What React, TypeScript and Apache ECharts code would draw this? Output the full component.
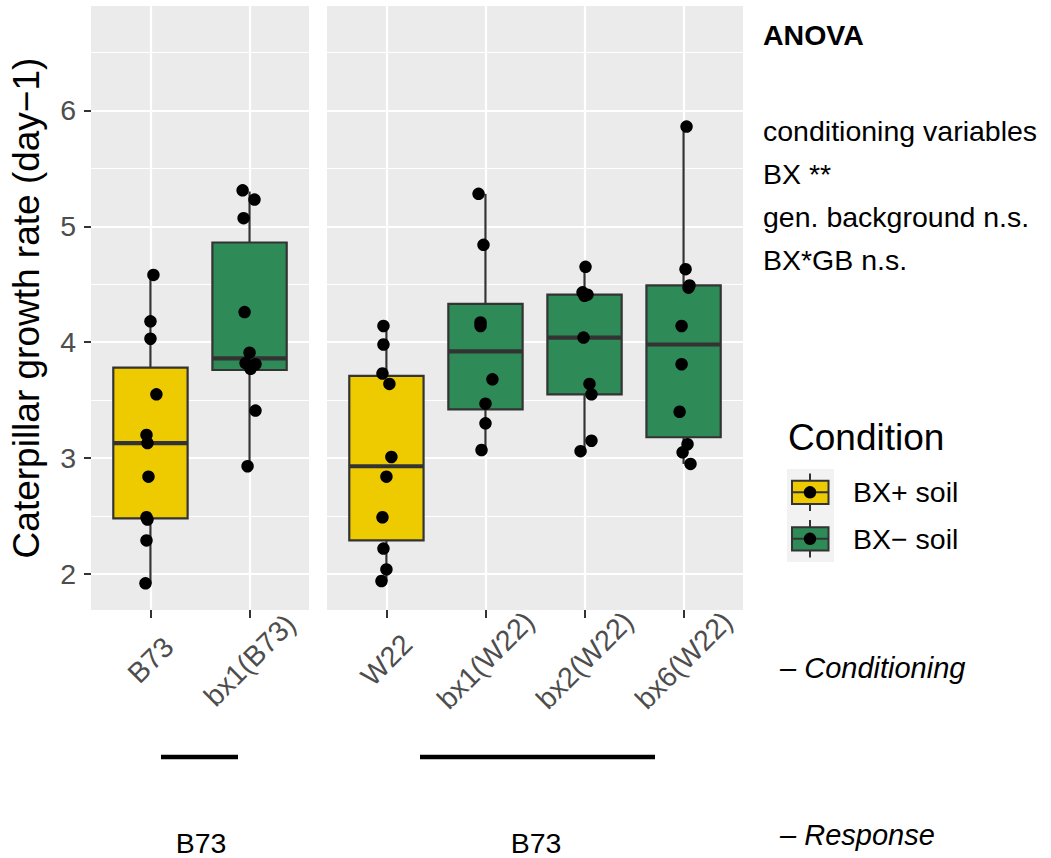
import React, { useEffect, useRef } from 'react';
import * as echarts from 'echarts';

// ---------- data ----------
const panel1Categories = ['B73', 'bx1(B73)'];
const panel2Categories = ['W22', 'bx1(W22)', 'bx2(W22)', 'bx6(W22)'];
const conditions = ['BX+ soil', 'BX\u2212 soil'];
const conditionColors = ['#EECB00', '#2E8B57'];
const panel1Condition = [0, 1];
const panel2Condition = [0, 1, 1, 1];

// [lower whisker, Q1, median, Q3, upper whisker]
const panel1Boxes = [
  [1.92, 2.48, 3.13, 3.78, 4.58],
  [2.93, 3.76, 3.86, 4.86, 5.3],
];
const panel2Boxes = [
  [1.94, 2.29, 2.93, 3.71, 4.14],
  [3.07, 3.42, 3.92, 4.33, 5.28],
  [3.06, 3.55, 4.04, 4.41, 4.65],
  [2.95, 3.18, 3.98, 4.49, 5.86],
];

// individual observations and their horizontal jitter (category units)
const b73Values = [4.58, 4.18, 4.03, 3.55, 3.2, 3.13, 2.84, 2.49, 2.47, 2.29, 1.92];
const b73Jitter = [0.03, 0.0, 0.0, 0.06, -0.04, -0.03, -0.02, -0.04, -0.03, -0.04, -0.05];
const bx1B73Values = [5.31, 5.23, 5.07, 4.26, 3.91, 3.82, 3.81, 3.77, 3.41, 2.93];
const bx1B73Jitter = [-0.07, 0.05, -0.06, -0.05, 0.0, -0.04, 0.06, 0.01, 0.06, -0.02];
const w22Values = [4.14, 3.98, 3.73, 3.64, 3.01, 2.84, 2.49, 2.22, 2.04, 1.94];
const w22Jitter = [-0.03, -0.03, -0.04, 0.03, 0.05, 0.0, -0.04, -0.03, 0.0, -0.05];
const bx1W22Values = [5.28, 4.84, 4.17, 4.14, 3.68, 3.47, 3.3, 3.07];
const bx1W22Jitter = [-0.07, -0.02, -0.05, -0.05, 0.07, 0.0, 0.0, -0.04];
const bx2W22Values = [4.65, 4.43, 4.41, 4.4, 4.04, 3.64, 3.55, 3.15, 3.06];
const bx2W22Jitter = [0.01, -0.02, 0.03, 0.0, -0.01, 0.05, 0.07, 0.07, -0.04];
const bx6W22Values = [5.86, 4.63, 4.49, 4.47, 4.14, 3.81, 3.4, 3.12, 3.05, 2.95];
const bx6W22Jitter = [0.03, 0.02, 0.06, 0.05, -0.02, -0.02, -0.04, 0.04, -0.01, 0.07];

const panel1Values = [b73Values, bx1B73Values];
const panel1Jitter = [b73Jitter, bx1B73Jitter];
const panel2Values = [w22Values, bx1W22Values, bx2W22Values, bx6W22Values];
const panel2Jitter = [w22Jitter, bx1W22Jitter, bx2W22Jitter, bx6W22Jitter];

const yTicks = [2, 3, 4, 5, 6];
const yMinorTicks = [2.5, 3.5, 4.5, 5.5, 6.5];
const yMin = 1.69;
const yMax = 6.9;

const yTitle = 'Caterpillar growth rate (day\u22121)';
const anovaTitle = 'ANOVA';
const anovaLines = ['conditioning variables', 'BX **', 'gen. background n.s.', 'BX*GB n.s.'];
const legendTitle = 'Condition';
const bottomGroups = ['B73', 'B73'];
const rowLabels = ['\u2013 Conditioning', '\u2013 Response'];

// ---------- style ----------
const FONT = '"Liberation Sans", Arial, Helvetica, sans-serif';
const SMALL = 28.5;
const BIG = 37;
const BOX_WIDTH = 0.75;
const DARK = '#333333';
const AXIS_TEXT = '#4D4D4D';

function boxData(boxes: number[][], cond: number[]) {
  return boxes.map((b, i) => [i + 1, ...b, cond[i]]);
}
function pointData(values: number[][], jitter: number[][]) {
  const out: number[][] = [];
  values.forEach((vals, i) => vals.forEach((v, j) => out.push([i + 1 + jitter[i][j], v])));
  return out;
}

const renderBox = (params: any, api: any) => {
  const x = api.value(0);
  const lo = api.coord([x, api.value(1)]);
  const q1 = api.coord([x, api.value(2)]);
  const med = api.coord([x, api.value(3)]);
  const q3 = api.coord([x, api.value(4)]);
  const hi = api.coord([x, api.value(5)]);
  const half = api.size([BOX_WIDTH, 0])[0] / 2;
  const color = conditionColors[api.value(6)];
  const line = { stroke: DARK, lineWidth: 2.2 };
  return {
    type: 'group',
    children: [
      { type: 'line', shape: { x1: lo[0], y1: lo[1], x2: q1[0], y2: q1[1] }, style: line },
      { type: 'line', shape: { x1: q3[0], y1: q3[1], x2: hi[0], y2: hi[1] }, style: line },
      {
        type: 'rect',
        shape: { x: q3[0] - half, y: q3[1], width: half * 2, height: q1[1] - q3[1] },
        style: { fill: color, stroke: DARK, lineWidth: 2.2 },
      },
      {
        type: 'line',
        shape: { x1: med[0] - half, y1: med[1], x2: med[0] + half, y2: med[1] },
        style: { stroke: DARK, lineWidth: 4.2 },
      },
    ],
  };
};

function xAxisFor(gridIndex: number, cats: string[]) {
  const vals = cats.map((_, i) => i + 1);
  return {
    type: 'value',
    gridIndex,
    min: 0.4,
    max: cats.length + 0.6,
    axisLine: { show: false },
    axisTick: { show: true, customValues: vals, length: 8, lineStyle: { color: DARK, width: 2 } },
    axisLabel: {
      customValues: vals,
      formatter: (v: number) => cats[Math.round(v) - 1] ?? '',
      rotate: 45,
      align: 'center',
      verticalAlign: 'middle',
      margin: 50,
      fontSize: SMALL,
      color: AXIS_TEXT,
      fontFamily: FONT,
    },
    splitLine: { show: true, lineStyle: { color: '#FFFFFF', width: 2.2 } },
  };
}

function yAxesFor(gridIndex: number, withLabels: boolean) {
  return [
    {
      type: 'value',
      gridIndex,
      min: yMin,
      max: yMax,
      axisLine: { show: false },
      axisTick: { show: withLabels, customValues: yTicks, length: 7, lineStyle: { color: DARK, width: 2 } },
      axisLabel: {
        show: withLabels,
        customValues: yTicks,
        margin: 15,
        fontSize: SMALL,
        color: AXIS_TEXT,
        fontFamily: FONT,
      },
      splitLine: { show: true, lineStyle: { color: '#FFFFFF', width: 2.2 } },
      name: withLabels ? yTitle : '',
      nameLocation: 'middle',
      nameGap: 46,
      nameTextStyle: { fontSize: BIG, color: '#000000', fontFamily: FONT },
    },
    {
      type: 'value',
      gridIndex,
      min: yMin,
      max: yMax,
      position: 'left',
      axisLine: { show: false },
      axisTick: { show: false, customValues: yMinorTicks },
      axisLabel: { show: false, customValues: yMinorTicks },
      splitLine: { show: true, lineStyle: { color: '#FFFFFF', width: 1.1 } },
    },
  ];
}

function legendGraphics() {
  const children: any[] = [
    {
      type: 'text',
      x: 788,
      y: 437,
      style: { text: legendTitle, fontSize: BIG, fontFamily: FONT, fill: '#000', verticalAlign: 'middle' },
    },
    { type: 'rect', shape: { x: 787, y: 469, width: 47, height: 93 }, style: { fill: '#F2F2F2' } },
  ];
  conditions.forEach((name, i) => {
    const cy = 492.3 + i * 46.5;
    children.push(
      { type: 'line', shape: { x1: 810, y1: cy - 18.7, x2: 810, y2: cy + 18.7 }, style: { stroke: DARK, lineWidth: 2 } },
      {
        type: 'rect',
        shape: { x: 792, y: cy - 11.6, width: 36.5, height: 23.2 },
        style: { fill: conditionColors[i], stroke: DARK, lineWidth: 2 },
      },
      { type: 'line', shape: { x1: 792, y1: cy, x2: 828.5, y2: cy }, style: { stroke: DARK, lineWidth: 2 } },
      { type: 'circle', shape: { cx: 810, cy, r: 6.2 }, style: { fill: '#000' } },
      {
        type: 'text',
        x: 853,
        y: cy,
        style: { text: name, fontSize: SMALL, fontFamily: FONT, fill: '#000', verticalAlign: 'middle' },
      }
    );
  });
  return children;
}

function annotationGraphics() {
  const txt = (text: string, x: number, y: number, extra: any = {}) => ({
    type: 'text',
    x,
    y,
    style: { text, fontSize: SMALL, fontFamily: FONT, fill: '#000', verticalAlign: 'middle', ...extra },
  });
  const anovaY = [131, 174, 217, 260];
  return [
    txt(anovaTitle, 763, 35, { fontWeight: 'bold' }),
    ...anovaLines.map((t, i) => txt(t, 763, anovaY[i])),
    { type: 'line', shape: { x1: 161, y1: 757, x2: 238, y2: 757 }, style: { stroke: '#000', lineWidth: 4.5 } },
    { type: 'line', shape: { x1: 420, y1: 757, x2: 655, y2: 757 }, style: { stroke: '#000', lineWidth: 4.5 } },
    txt(bottomGroups[0], 201, 843, { align: 'center' }),
    txt(bottomGroups[1], 536, 843, { align: 'center' }),
    txt(rowLabels[0], 780, 668, { fontStyle: 'italic', fontSize: 29 }),
    txt(rowLabels[1], 780, 835, { fontStyle: 'italic', fontSize: 29 }),
  ];
}

export default function App() {
  const ref = useRef<HTMLDivElement>(null);
  useEffect(() => {
    document.body.style.margin = '0';
    if (!ref.current) return;
    const chart = echarts.init(ref.current, undefined, { renderer: 'svg' });
    chart.setOption({
      animation: false,
      backgroundColor: '#FFFFFF',
      textStyle: { fontFamily: FONT },
      grid: [
        { left: 91, top: 6, width: 218, height: 604, show: true, backgroundColor: '#EBEBEB', borderWidth: 0 },
        { left: 327, top: 6, width: 416, height: 604, show: true, backgroundColor: '#EBEBEB', borderWidth: 0 },
      ],
      xAxis: [xAxisFor(0, panel1Categories), xAxisFor(1, panel2Categories)],
      yAxis: [...yAxesFor(0, true), ...yAxesFor(1, false)],
      series: [
        {
          type: 'custom',
          name: 'boxes-1',
          xAxisIndex: 0,
          yAxisIndex: 0,
          renderItem: renderBox,
          encode: { x: 0, y: [1, 2, 3, 4, 5] },
          data: boxData(panel1Boxes, panel1Condition),
          z: 2,
        },
        {
          type: 'custom',
          name: 'boxes-2',
          xAxisIndex: 1,
          yAxisIndex: 2,
          renderItem: renderBox,
          encode: { x: 0, y: [1, 2, 3, 4, 5] },
          data: boxData(panel2Boxes, panel2Condition),
          z: 2,
        },
        {
          type: 'scatter',
          name: 'points-1',
          xAxisIndex: 0,
          yAxisIndex: 0,
          symbolSize: 12.5,
          itemStyle: { color: '#000000', opacity: 1 },
          data: pointData(panel1Values, panel1Jitter),
          z: 3,
        },
        {
          type: 'scatter',
          name: 'points-2',
          xAxisIndex: 1,
          yAxisIndex: 2,
          symbolSize: 12.5,
          itemStyle: { color: '#000000', opacity: 1 },
          data: pointData(panel2Values, panel2Jitter),
          z: 3,
        },
      ],
      graphic: [...legendGraphics(), ...annotationGraphics()],
    });
    return () => chart.dispose();
  }, []);
  return <div ref={ref} style={{ width: 1051, height: 858, position: 'absolute', left: 0, top: 0, background: '#fff' }} />;
}
